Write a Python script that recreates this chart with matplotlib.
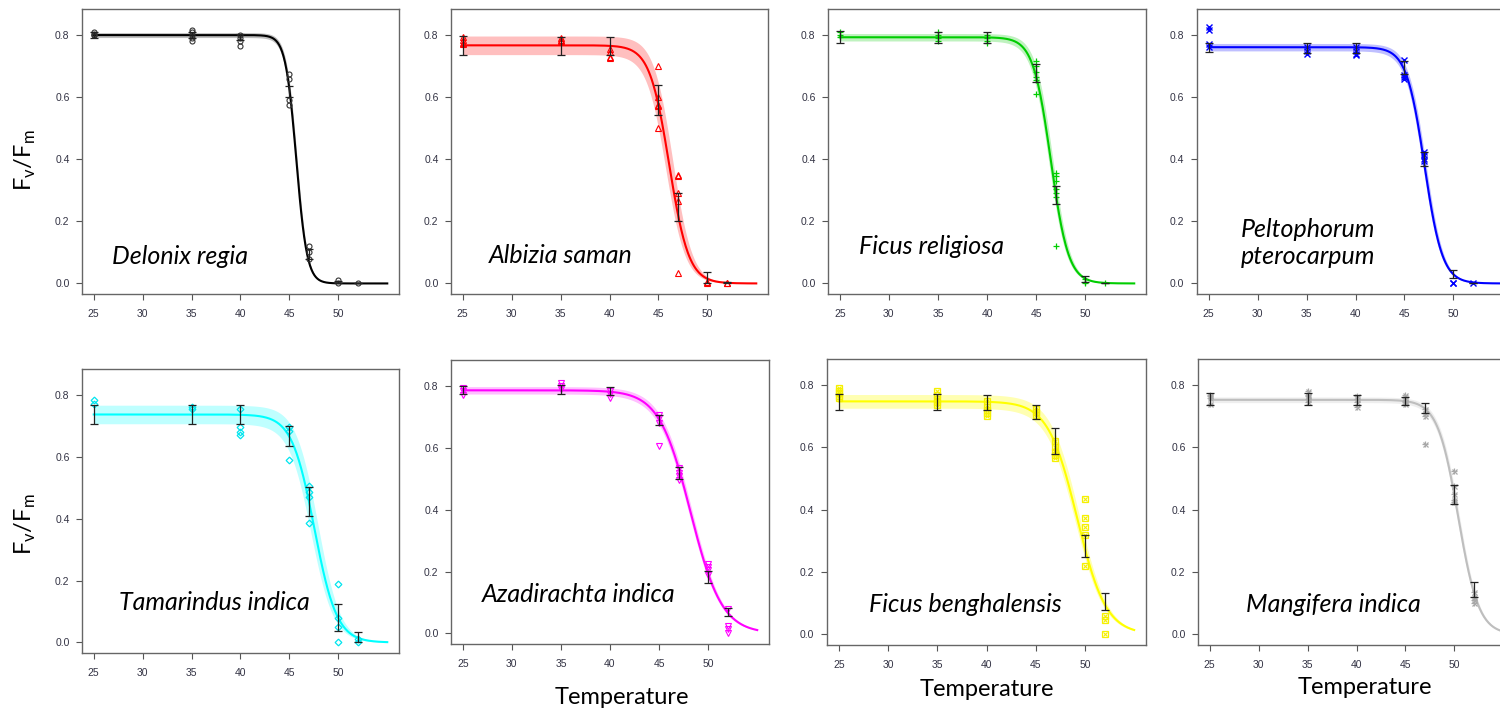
import numpy as np
import matplotlib
matplotlib.use("Agg")
import matplotlib.pyplot as plt

# ---------------- data ----------------
temps = [25, 35, 40, 45, 47, 50, 52]

species = ["Delonix regia", "Albizia saman", "Ficus religiosa", "Peltophorum\npterocarpum",
           "Tamarindus indica", "Azadirachta indica", "Ficus benghalensis", "Mangifera indica"]

# replicate measurements (Fv/Fm) at each temperature
delonix_pts = [[0.81, 0.805, 0.80, 0.80], [0.815, 0.81, 0.80, 0.79, 0.78], [0.80, 0.79, 0.78, 0.765],
               [0.675, 0.66, 0.59, 0.575], [0.12, 0.10, 0.08], [0.01, 0.0], [0.0]]
albizia_pts = [[0.795, 0.785, 0.775, 0.77], [0.79, 0.785, 0.78], [0.755, 0.745, 0.73, 0.725],
               [0.70, 0.60, 0.575, 0.57, 0.50], [0.35, 0.345, 0.29, 0.265, 0.035], [0.005, 0.0], [0.002, 0.0]]
religiosa_pts = [[0.81, 0.80, 0.795], [0.81, 0.80, 0.79, 0.78], [0.80, 0.79, 0.78, 0.775],
                 [0.715, 0.70, 0.68, 0.665, 0.655, 0.61], [0.355, 0.345, 0.33, 0.305, 0.29, 0.28, 0.12],
                 [0.015, 0.005, 0.0], [0.0]]
peltophorum_pts = [[0.825, 0.815, 0.77, 0.76], [0.76, 0.75, 0.74], [0.76, 0.75, 0.74, 0.735],
                   [0.72, 0.67, 0.665, 0.66], [0.425, 0.415, 0.40, 0.395], [0.0, 0.0], [0.0]]
tamarindus_pts = [[0.785, 0.77], [0.76, 0.755], [0.755, 0.695, 0.68, 0.67], [0.695, 0.685, 0.59],
                  [0.505, 0.485, 0.47, 0.385], [0.19, 0.08, 0.05, 0.0], [0.01, 0.0]]
azadirachta_pts = [[0.795, 0.785, 0.77], [0.81, 0.80, 0.79], [0.785, 0.775, 0.76], [0.705, 0.695, 0.68, 0.605],
                   [0.535, 0.52, 0.51, 0.495], [0.225, 0.215, 0.205, 0.19], [0.08, 0.025, 0.015, 0.0]]
benghalensis_pts = [[0.79, 0.78, 0.775, 0.765, 0.76], [0.78, 0.77, 0.755, 0.745, 0.735],
                    [0.75, 0.73, 0.72, 0.71, 0.70], [0.725, 0.715, 0.705], [0.62, 0.60, 0.585, 0.575, 0.565],
                    [0.435, 0.375, 0.345, 0.32, 0.22], [0.06, 0.045, 0.0]]
mangifera_pts = [[0.77, 0.765, 0.76, 0.74], [0.78, 0.77, 0.765, 0.755, 0.745], [0.765, 0.755, 0.745, 0.73],
                 [0.77, 0.76, 0.75, 0.745, 0.74], [0.725, 0.71, 0.70, 0.61], [0.525, 0.475, 0.45, 0.43, 0.425],
                 [0.135, 0.12, 0.11, 0.10]]

# means and error-bar half widths at each temperature
delonix_mean = [0.80, 0.80, 0.795, 0.618, 0.095, 0.004, 0.0]
delonix_err = [0.010, 0.010, 0.010, 0.018, 0.016, 0.004, 0.0]
albizia_mean = [0.767, 0.766, 0.766, 0.592, 0.245, 0.019, 0.003]
albizia_err = [0.030, 0.029, 0.029, 0.048, 0.045, 0.019, 0.003]
religiosa_mean = [0.794, 0.793, 0.793, 0.678, 0.285, 0.015, 0.001]
religiosa_err = [0.019, 0.018, 0.018, 0.028, 0.028, 0.009, 0.001]
peltophorum_mean = [0.761, 0.758, 0.758, 0.695, 0.401, 0.031, 0.001]
peltophorum_err = [0.015, 0.017, 0.017, 0.020, 0.024, 0.013, 0.001]
tamarindus_mean = [0.737, 0.737, 0.737, 0.668, 0.456, 0.081, 0.017]
tamarindus_err = [0.032, 0.032, 0.032, 0.033, 0.047, 0.043, 0.017]
azadirachta_mean = [0.787, 0.788, 0.784, 0.690, 0.519, 0.183, 0.069]
azadirachta_err = [0.014, 0.015, 0.014, 0.016, 0.019, 0.020, 0.013]
benghalensis_mean = [0.746, 0.746, 0.745, 0.713, 0.620, 0.284, 0.106]
benghalensis_err = [0.026, 0.026, 0.024, 0.022, 0.041, 0.034, 0.028]
mangifera_mean = [0.756, 0.756, 0.753, 0.750, 0.726, 0.450, 0.145]
mangifera_err = [0.019, 0.019, 0.016, 0.013, 0.016, 0.030, 0.024]

# fitted logistic model parameters (plateau, T50, slope) and confidence margins
fit_top = [0.800, 0.767, 0.793, 0.761, 0.737, 0.786, 0.748, 0.753]
fit_t50 = [45.7, 46.1, 46.5, 47.05, 47.55, 48.2, 49.2, 50.4]
fit_slope = [0.55, 1.0, 0.9, 0.92, 1.15, 1.6, 1.47, 1.05]
ci_top = [0.008, 0.030, 0.012, 0.012, 0.030, 0.012, 0.022, 0.009]
ci_t50 = [0.08, 0.35, 0.2, 0.15, 0.35, 0.15, 0.2, 0.12]

x_ticks = [25, 30, 35, 40, 45, 50]
y_ticks = [0.0, 0.2, 0.4, 0.6, 0.8]

all_pts = [delonix_pts, albizia_pts, religiosa_pts, peltophorum_pts,
           tamarindus_pts, azadirachta_pts, benghalensis_pts, mangifera_pts]
all_mean = [delonix_mean, albizia_mean, religiosa_mean, peltophorum_mean,
            tamarindus_mean, azadirachta_mean, benghalensis_mean, mangifera_mean]
all_err = [delonix_err, albizia_err, religiosa_err, peltophorum_err,
           tamarindus_err, azadirachta_err, benghalensis_err, mangifera_err]

# ---------------- style ----------------
colors = ["#000000", "#FF0000", "#00CD00", "#0000FF", "#00FFFF", "#FF00FF", "#FFFF00", "#BEBEBE"]
marker_colors = ["#333333", "#FF0000", "#00CD00", "#0000FF", "#00E5EE", "#FF00FF", "#F5F000", "#A8A8A8"]

W, H = 1500, 711
# axes boxes in pixels: left, top, right, bottom
boxes = [(82, 9, 399, 294), (451, 9, 768, 294), (828, 9, 1146, 294), (1197, 9, 1514, 294),
         (82, 369, 399, 653), (451, 360, 769, 644), (827, 359, 1146, 645), (1198, 359, 1515, 645)]
label_pos = [(112, 257), (489, 255), (859, 246), (1241, 243),
             (119, 603), (482, 595), (869, 605), (1246, 605)]

fig = plt.figure(figsize=(W / 100, H / 100), dpi=100)


def logistic(t, top, t50, s):
    return top / (1.0 + np.exp((t - t50) / s))


tt = np.linspace(25, 55, 400)

for i in range(8):
    l, t, r, b = boxes[i]
    ax = fig.add_axes([l / W, 1 - b / H, (r - l) / W, (b - t) / H])
    c = colors[i]
    mc = marker_colors[i]
    # band
    upper = logistic(tt, fit_top[i] + ci_top[i], fit_t50[i] + ci_t50[i], fit_slope[i])
    lower = logistic(tt, fit_top[i] - ci_top[i], fit_t50[i] - ci_t50[i], fit_slope[i])
    ax.fill_between(tt, lower, upper, color=c, alpha=0.25 if i != 6 else 0.3, lw=0, zorder=1)
    ax.plot(tt, logistic(tt, fit_top[i], fit_t50[i], fit_slope[i]), color=c, lw=1.5, zorder=3)
    # points
    xs, ys = [], []
    for T, vals in zip(temps, all_pts[i]):
        xs += [T] * len(vals)
        ys += vals
    if i == 0:
        ax.plot(xs, ys, 'o', mfc='none', mec=mc, ms=3.6, mew=0.8, zorder=4)
    elif i == 1:
        ax.plot(xs, ys, '^', mfc='none', mec=mc, ms=4, mew=0.8, zorder=4)
    elif i == 2:
        ax.plot(xs, ys, '+', color=mc, ms=5, mew=0.9, zorder=4)
    elif i == 3:
        ax.plot(xs, ys, 'x', color=mc, ms=4, mew=1.0, zorder=4)
    elif i == 4:
        ax.plot(xs, ys, 'D', mfc='none', mec=mc, ms=3.4, mew=0.9, zorder=4)
    elif i == 5:
        ax.plot(xs, ys, 'v', mfc='none', mec=mc, ms=4, mew=0.8, zorder=4)
    elif i == 6:
        ax.plot(xs, ys, 's', mfc='none', mec=mc, ms=4, mew=0.9, zorder=4)
        ax.plot(xs, ys, 'x', color=mc, ms=3, mew=0.8, zorder=4)
    else:
        ax.plot(xs, ys, '+', color=mc, ms=5, mew=0.9, zorder=4)
        ax.plot(xs, ys, 'x', color=mc, ms=3.6, mew=0.9, zorder=4)
    # error bars
    ax.errorbar(temps, all_mean[i], yerr=all_err[i], fmt='none', ecolor='#222222',
                elinewidth=0.9, capsize=3, capthick=0.9, zorder=5)

    ax.set_xlim(23.8, 56.2)
    ax.set_ylim(-0.034, 0.884)
    ax.set_xticks(x_ticks)
    ax.set_yticks(y_ticks)
    ax.set_xticklabels([str(v) for v in x_ticks])
    ax.set_yticklabels(["%.1f" % v for v in y_ticks])
    ax.tick_params(direction='out', length=4, width=0.8, colors='#555555', labelcolor='#333344',
                   labelsize=7.5, pad=5)
    ax.tick_params(axis='x', pad=7)
    for lab in ax.get_xticklabels() + ax.get_yticklabels():
        lab.set_fontfamily('Liberation Sans')
    for sp in ax.spines.values():
        sp.set_color('#666666')
        sp.set_linewidth(1.0)

    lx, ly = label_pos[i]
    fig.text(lx / W, 1 - ly / H, species[i], fontsize=18, style='italic', family='Lato',
             ha='left', va='center', multialignment='left', linespacing=1.2, color='black')

# axis titles
for (x, y) in [(25, 160), (25, 524)]:
    fig.text(x / W, 1 - y / H, r'F$_\mathregular{v}$/F$_\mathregular{m}$', rotation=90,
             fontsize=17, family='Lato', ha='center', va='center')
for (x, y) in [(622, 698), (987, 690), (1365, 688)]:
    fig.text(x / W, 1 - y / H, 'Temperature', fontsize=17, family='Lato', ha='center', va='center')

fig.savefig('out.png', dpi=100)
